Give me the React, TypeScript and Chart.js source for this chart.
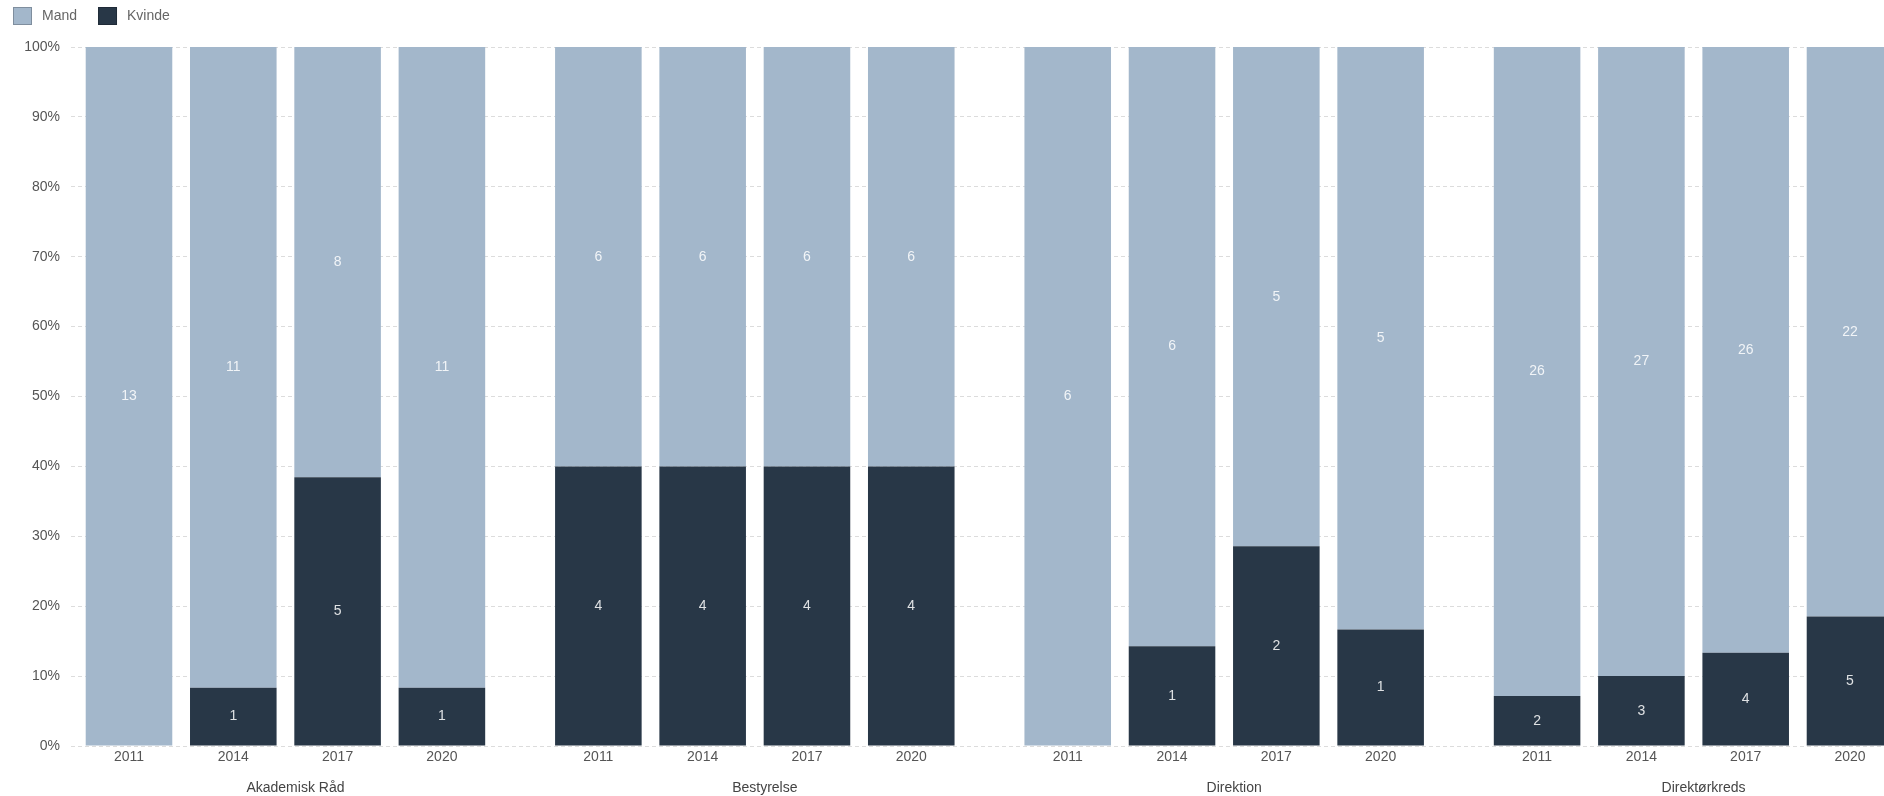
import { useEffect, useRef } from "react";
import { Chart, registerables } from "chart.js";

Chart.register(...registerables);

const GROUPS = ["Akademisk Råd", "Bestyrelse", "Direktion", "Direktørkreds"];
const YEARS = ["2011", "2014", "2017", "2020"];
// Headcount per body and year (group order, then year order)
const MAND = [13, 11, 8, 11, 6, 6, 6, 6, 6, 6, 5, 5, 26, 27, 26, 22];
const KVINDE = [0, 1, 5, 1, 4, 4, 4, 4, 0, 1, 2, 1, 2, 3, 4, 5];
const SERIES = ["Mand", "Kvinde"];
const SERIES_COLORS = ["#A3B7CB", "#283747"];

const FONT = '"Liberation Sans", Arial, sans-serif';

// Each group takes its years plus half a slot of spacing before the next group
const GROUP_STRIDE = YEARS.length + 0.5;
const slot = (i: number) => Math.floor(i / YEARS.length) * GROUP_STRIDE + (i % YEARS.length);
const POSITIONS = MAND.map((_, i) => slot(i));
const GROUP_CENTERS = GROUPS.map((_, g) => g * GROUP_STRIDE + (YEARS.length - 1) / 2);

const X_MIN = -0.556;
const X_MAX = 16.826;

const share = (part: number[], i: number) => {
  const total = MAND[i] + KVINDE[i];
  return total ? (part[i] / total) * 100 : 0;
};

const valueLabels = {
  id: "valueLabels",
  afterDatasetsDraw(chart: any) {
    const ctx = chart.ctx;
    ctx.save();
    ctx.font = `14px ${FONT}`;
    ctx.fillStyle = "rgba(255,255,255,0.85)";
    ctx.textAlign = "center";
    ctx.textBaseline = "middle";
    chart.data.datasets.forEach((ds: any, di: number) => {
      const meta = chart.getDatasetMeta(di);
      meta.data.forEach((bar: any, i: number) => {
        const n = ds.counts[i];
        if (!n) return;
        const { x, y, base } = bar.getProps(["x", "y", "base"], true);
        ctx.fillText(String(n), x, (y + base) / 2);
      });
    });
    ctx.restore();
  },
};

const topLegend = {
  id: "topLegend",
  afterDraw(chart: any) {
    const ctx = chart.ctx;
    ctx.save();
    ctx.font = `14px ${FONT}`;
    ctx.textBaseline = "middle";
    ctx.textAlign = "left";
    let x = 13;
    SERIES.forEach((name, i) => {
      ctx.fillStyle = SERIES_COLORS[i];
      ctx.fillRect(x, 7, 19, 18);
      ctx.strokeStyle = "rgba(0,0,0,0.22)";
      ctx.lineWidth = 1;
      ctx.strokeRect(x + 0.5, 7.5, 18, 17);
      ctx.fillStyle = "#666";
      ctx.fillText(name, x + 29, 16);
      x += 29 + ctx.measureText(name).width + 21;
    });
    ctx.restore();
  },
};

export default function App() {
  const canvasRef = useRef<HTMLCanvasElement | null>(null);

  useEffect(() => {
    const canvas = canvasRef.current;
    if (!canvas) return;
    const chart = new Chart(canvas, {
      type: "bar",
      data: {
        datasets: [
          {
            label: "Kvinde",
            data: KVINDE.map((_, i) => ({ x: POSITIONS[i], y: share(KVINDE, i) })),
            counts: KVINDE,
            backgroundColor: SERIES_COLORS[1],
            borderWidth: 0,
            barPercentage: 0.83,
            categoryPercentage: 1,
          } as any,
          {
            label: "Mand",
            data: MAND.map((_, i) => ({ x: POSITIONS[i], y: share(MAND, i) })),
            counts: MAND,
            backgroundColor: SERIES_COLORS[0],
            borderWidth: 0,
            barPercentage: 0.83,
            categoryPercentage: 1,
          } as any,
        ],
      },
      options: {
        responsive: false,
        animation: false,
        layout: { padding: { top: 47, left: 0, right: 0, bottom: 0 } },
        plugins: {
          legend: { display: false },
          tooltip: { enabled: false },
        },
        scales: {
          x: {
            type: "linear",
            stacked: true,
            min: X_MIN,
            max: X_MAX,
            bounds: "data",
            offset: false,
            weight: 0,
            grid: { display: false, drawTicks: false },
            border: { display: false },
            afterBuildTicks: (scale: any) => {
              scale.ticks = POSITIONS.map((v) => ({ value: v }));
            },
            afterFit: (scale: any) => {
              scale.height = 20;
            },
            ticks: {
              autoSkip: false,
              maxRotation: 0,
              padding: 3,
              color: "#555",
              font: { family: FONT, size: 14 },
              callback: (_v: any, i: number) => YEARS[i % YEARS.length],
            },
          },
          xGroups: {
            type: "linear",
            position: "bottom",
            min: X_MIN,
            max: X_MAX,
            bounds: "data",
            offset: false,
            weight: 1,
            grid: { display: false, drawTicks: false },
            border: { display: false },
            afterBuildTicks: (scale: any) => {
              scale.ticks = GROUP_CENTERS.map((v) => ({ value: v }));
            },
            afterFit: (scale: any) => {
              scale.height = 30;
            },
            ticks: {
              autoSkip: false,
              maxRotation: 0,
              padding: 13.5,
              labelOffset: 10,
              color: "#444",
              font: { family: FONT, size: 14 },
              callback: (_v: any, i: number) => GROUPS[i],
            },
          },
          y: {
            stacked: true,
            min: 0,
            max: 100,
            afterFit: (scale: any) => {
              scale.width = 71;
            },
            grid: { color: "#dcdcdc", lineWidth: 1, drawTicks: false },
            border: { display: false, dash: [4, 3] },
            ticks: {
              stepSize: 10,
              padding: 11,
              color: "#555",
              font: { family: FONT, size: 14 },
              callback: (v: any) => `${v}%`,
            },
          },
        },
      } as any,
      plugins: [valueLabels, topLegend],
    });
    return () => chart.destroy();
  }, []);

  return (
    <div style={{ position: "fixed", left: 0, top: 0, width: 1884, height: 796, background: "#fff" }}>
      <canvas ref={canvasRef} width={1884} height={796} style={{ display: "block" }} />
    </div>
  );
}
